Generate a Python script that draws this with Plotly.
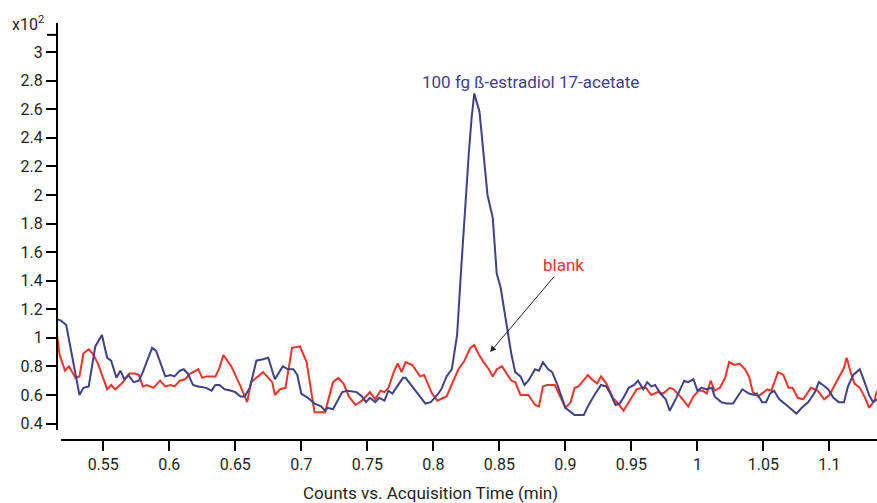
import plotly.graph_objects as go

# Blue trace: 100 fg ß-estradiol 17-acetate (counts x10^2 vs. min)
blue_t = [0.515, 0.518, 0.522, 0.527, 0.532, 0.535, 0.539, 0.544, 0.549, 0.553, 0.556, 0.560, 0.563, 0.566,
          0.569, 0.573, 0.577, 0.580, 0.587, 0.590, 0.597, 0.601, 0.604, 0.608, 0.611, 0.614, 0.618, 0.622,
          0.628, 0.632, 0.635, 0.638, 0.642, 0.647, 0.650, 0.654, 0.657, 0.661, 0.666, 0.671, 0.675, 0.680,
          0.686, 0.690, 0.694, 0.697, 0.700, 0.705, 0.710, 0.715, 0.718, 0.720, 0.724, 0.731, 0.735, 0.742,
          0.746, 0.749, 0.752, 0.756, 0.759, 0.763, 0.766, 0.769, 0.777, 0.779, 0.784, 0.787, 0.794, 0.798,
          0.803, 0.806, 0.810, 0.814, 0.818, 0.821, 0.824, 0.827, 0.829, 0.831, 0.835, 0.838, 0.841, 0.845,
          0.848, 0.851, 0.855, 0.859, 0.862, 0.866, 0.869, 0.872, 0.877, 0.880, 0.883, 0.887, 0.890, 0.894,
          0.900, 0.903, 0.907, 0.914, 0.917, 0.922, 0.927, 0.931, 0.934, 0.938, 0.941, 0.944, 0.948, 0.952,
          0.955, 0.959, 0.962, 0.965, 0.968, 0.972, 0.976, 0.979, 0.984, 0.990, 0.993, 0.997, 1.000, 1.003,
          1.007, 1.011, 1.013, 1.018, 1.022, 1.027, 1.031, 1.034, 1.039, 1.043, 1.045, 1.049, 1.052, 1.055,
          1.058, 1.062, 1.066, 1.070, 1.075, 1.079, 1.084, 1.089, 1.092, 1.095, 1.099, 1.103, 1.107, 1.111,
          1.114, 1.118, 1.123, 1.127, 1.130, 1.133, 1.136]
blue_v = [1.13, 1.12, 1.09, 0.84, 0.60, 0.65, 0.66, 0.94, 1.02, 0.86, 0.84, 0.72, 0.77, 0.71,
          0.74, 0.69, 0.70, 0.76, 0.93, 0.91, 0.73, 0.74, 0.73, 0.77, 0.78, 0.75, 0.67, 0.66,
          0.65, 0.63, 0.67, 0.67, 0.64, 0.63, 0.62, 0.59, 0.59, 0.65, 0.84, 0.85, 0.86, 0.71,
          0.80, 0.78, 0.78, 0.74, 0.61, 0.58, 0.54, 0.52, 0.49, 0.51, 0.50, 0.62, 0.63, 0.62,
          0.59, 0.55, 0.58, 0.55, 0.58, 0.56, 0.63, 0.61, 0.72, 0.72, 0.66, 0.63, 0.54, 0.55,
          0.60, 0.64, 0.73, 0.78, 1.02, 1.47, 1.93, 2.31, 2.54, 2.71, 2.58, 2.31, 2.00, 1.84,
          1.45, 1.35, 1.12, 0.89, 0.76, 0.73, 0.67, 0.70, 0.78, 0.77, 0.83, 0.78, 0.76, 0.67,
          0.51, 0.49, 0.46, 0.46, 0.52, 0.60, 0.67, 0.66, 0.61, 0.53, 0.54, 0.58, 0.65, 0.67,
          0.70, 0.64, 0.69, 0.66, 0.67, 0.61, 0.57, 0.49, 0.58, 0.70, 0.69, 0.71, 0.63, 0.65,
          0.64, 0.65, 0.59, 0.55, 0.54, 0.54, 0.60, 0.64, 0.61, 0.60, 0.61, 0.55, 0.55, 0.61,
          0.63, 0.57, 0.54, 0.51, 0.47, 0.51, 0.55, 0.62, 0.69, 0.67, 0.64, 0.58, 0.55, 0.55,
          0.66, 0.74, 0.78, 0.68, 0.60, 0.55, 0.57]

# Red trace: blank
red_t = [0.515, 0.517, 0.521, 0.524, 0.529, 0.532, 0.535, 0.539, 0.542, 0.546, 0.553, 0.556, 0.559, 0.564,
         0.570, 0.574, 0.577, 0.580, 0.583, 0.588, 0.593, 0.597, 0.601, 0.604, 0.608, 0.612, 0.616, 0.622,
         0.625, 0.628, 0.635, 0.638, 0.641, 0.647, 0.654, 0.659, 0.662, 0.669, 0.671, 0.674, 0.678, 0.680,
         0.684, 0.688, 0.693, 0.699, 0.704, 0.710, 0.718, 0.724, 0.728, 0.732, 0.736, 0.741, 0.746, 0.752,
         0.756, 0.760, 0.763, 0.766, 0.770, 0.773, 0.776, 0.779, 0.784, 0.790, 0.793, 0.799, 0.803, 0.810,
         0.819, 0.823, 0.828, 0.831, 0.834, 0.838, 0.842, 0.845, 0.848, 0.852, 0.855, 0.859, 0.862, 0.866,
         0.872, 0.877, 0.880, 0.883, 0.886, 0.892, 0.896, 0.900, 0.904, 0.907, 0.910, 0.917, 0.920, 0.924,
         0.927, 0.931, 0.936, 0.940, 0.944, 0.948, 0.954, 0.958, 0.961, 0.965, 0.970, 0.974, 0.979, 0.982,
         0.987, 0.993, 0.997, 1.001, 1.004, 1.007, 1.010, 1.013, 1.017, 1.021, 1.024, 1.028, 1.032, 1.036,
         1.039, 1.042, 1.046, 1.053, 1.056, 1.061, 1.065, 1.069, 1.072, 1.076, 1.080, 1.086, 1.091, 1.096,
         1.100, 1.104, 1.108, 1.111, 1.113, 1.116, 1.119, 1.123, 1.127, 1.130, 1.134, 1.136]
red_v = [1.02, 0.88, 0.77, 0.80, 0.72, 0.73, 0.89, 0.92, 0.89, 0.82, 0.64, 0.67, 0.64, 0.68,
         0.75, 0.75, 0.74, 0.66, 0.67, 0.65, 0.70, 0.66, 0.67, 0.66, 0.70, 0.71, 0.75, 0.78,
         0.72, 0.73, 0.73, 0.79, 0.88, 0.80, 0.66, 0.55, 0.69, 0.74, 0.76, 0.73, 0.69, 0.60,
         0.64, 0.65, 0.93, 0.94, 0.83, 0.48, 0.48, 0.69, 0.72, 0.68, 0.59, 0.53, 0.56, 0.62,
         0.57, 0.63, 0.62, 0.65, 0.76, 0.82, 0.76, 0.83, 0.81, 0.73, 0.74, 0.61, 0.56, 0.59,
         0.78, 0.83, 0.93, 0.95, 0.89, 0.83, 0.78, 0.73, 0.78, 0.80, 0.76, 0.70, 0.69, 0.60,
         0.60, 0.53, 0.52, 0.66, 0.67, 0.67, 0.59, 0.51, 0.55, 0.65, 0.66, 0.74, 0.71, 0.68,
         0.73, 0.68, 0.58, 0.54, 0.49, 0.55, 0.64, 0.65, 0.65, 0.60, 0.62, 0.61, 0.65, 0.64,
         0.59, 0.52, 0.59, 0.63, 0.63, 0.61, 0.70, 0.63, 0.65, 0.72, 0.83, 0.81, 0.82, 0.78,
         0.73, 0.62, 0.59, 0.64, 0.63, 0.76, 0.74, 0.65, 0.65, 0.58, 0.57, 0.65, 0.63, 0.57,
         0.60, 0.67, 0.74, 0.79, 0.86, 0.76, 0.68, 0.65, 0.58, 0.51, 0.56, 0.63]

x_ticks = [0.55, 0.6, 0.65, 0.7, 0.75, 0.8, 0.85, 0.9, 0.95, 1.0, 1.05, 1.1]
x_tick_text = ["0.55", "0.6", "0.65", "0.7", "0.75", "0.8", "0.85", "0.9", "0.95", "1", "1.05", "1.1"]
y_ticks = [0.4, 0.6, 0.8, 1.0, 1.2, 1.4, 1.6, 1.8, 2.0, 2.2, 2.4, 2.6, 2.8, 3.0]
y_tick_text = ["0.4", "0.6", "0.8", "1", "1.2", "1.4", "1.6", "1.8", "2", "2.2", "2.4", "2.6", "2.8", "3"]
y_extra_tick = 3.12  # unlabeled tick above 3

BLUE = "#3f4189"
RED = "#ef3328"
FONT = "Roboto, Liberation Sans, sans-serif"
TXT = "#231f20"

fig = go.Figure()
fig.add_trace(go.Scatter(x=red_t, y=red_v, mode="lines", line=dict(color=RED, width=2), name="blank"))
fig.add_trace(go.Scatter(x=blue_t, y=blue_v, mode="lines", line=dict(color=BLUE, width=2),
                         name="100 fg ß-estradiol 17-acetate"))

fig.update_layout(
    width=877, height=503,
    margin=dict(l=57, r=0, t=23, b=63),
    paper_bgcolor="white", plot_bgcolor="white",
    showlegend=False,
    font=dict(family=FONT, size=16, color=TXT),
    xaxis=dict(range=[0.515, 1.136], domain=[0, 1], anchor="free", position=0,
               automargin=False,
               showline=False, showgrid=False, zeroline=False,
               tickvals=x_ticks, ticktext=x_tick_text,
               ticks="outside", ticklen=10, tickwidth=2, tickcolor="black",
               tickfont=dict(family=FONT, size=16, color=TXT)),
    yaxis=dict(range=[0.355, 3.203], domain=[0.024, 1], anchor="free", position=0,
               automargin=False,
               showline=True, linecolor="black", linewidth=2,
               showgrid=False, zeroline=False,
               tickvals=y_ticks, ticktext=y_tick_text,
               ticks="outside", ticklen=10, tickwidth=2, tickcolor="black",
               tickfont=dict(family=FONT, size=16, color=TXT)),
)

# separate x axis line (starts slightly right of the y axis)
fig.add_shape(type="line", xref="paper", yref="paper", x0=0.005, x1=1, y0=0, y1=0,
              line=dict(color="black", width=2))
# unlabeled tick above "3"
fig.add_shape(type="line", xref="paper", yref="y", x0=-0.0122, x1=0, y0=y_extra_tick, y1=y_extra_tick,
              line=dict(color="black", width=2))

fig.add_annotation(xref="paper", yref="paper", x=-0.057, y=0.999, xanchor="left", yanchor="middle",
                   text="x10<sup>2</sup>", showarrow=False, font=dict(family=FONT, size=16, color=TXT))
fig.add_annotation(xref="paper", yref="paper", x=0.455, y=-0.127, xanchor="center", yanchor="middle",
                   text="Counts vs. Acquisition Time (min)", showarrow=False,
                   font=dict(family=FONT, size=17, color=TXT))
fig.add_annotation(x=0.8733, y=2.79, xanchor="center", yanchor="middle",
                   text="100 fg ß-estradiol 17-acetate", showarrow=False,
                   font=dict(family=FONT, size=17, color=BLUE))
fig.add_annotation(x=0.843, y=0.90, ax=0.8989, ay=1.509, axref="x", ayref="y", xref="x", yref="y",
                   text="blank", font=dict(family=FONT, size=17, color=RED),
                   showarrow=True, arrowhead=2, arrowsize=1.2, arrowwidth=1, arrowcolor="#222222")

fig.write_html("out.html", config={"displayModeBar": False},
               post_script="document.body.style.margin='0';document.body.style.padding='0';")
